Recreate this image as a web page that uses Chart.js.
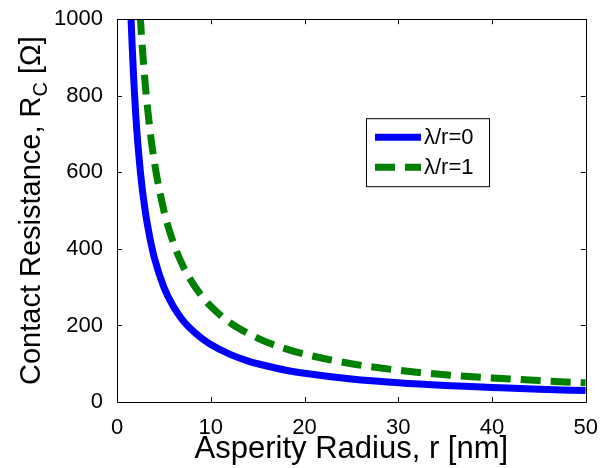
<!DOCTYPE html>
<html>
<head>
<meta charset="utf-8">
<script src="https://cdn.jsdelivr.net/npm/chart.js@4.4.0/dist/chart.umd.min.js"></script>
<style>
  html, body { margin: 0; padding: 0; background: #fff; }
  #wrap { width: 603px; height: 468px; }
</style>
</head>
<body>
<div id="wrap"><canvas id="rcChart" width="603" height="468"></canvas></div>
<script>
// values
const radiusBlue = [1.3, 1.5, 2, 2.5, 3, 3.5, 4, 5, 6, 7, 8, 9, 10, 12, 14, 16, 18, 20, 25, 30, 35, 40, 45, 50];
const resistBlue = [1150, 1000, 750, 600, 500, 430, 375, 300, 250, 214, 188, 167, 150, 125, 107, 94, 83, 75, 60, 50, 43, 38, 33, 30];
const radiusGreen = [2.3, 2.5, 3, 3.5, 4, 5, 6, 7, 8, 9, 10, 12, 14, 16, 18, 20, 25, 30, 35, 40, 45, 50];
const resistGreen = [1090, 1000, 833, 714, 625, 500, 417, 357, 313, 278, 250, 208, 179, 156, 139, 125, 100, 83, 71, 63, 56, 50];
const xTicks = [0, 10, 20, 30, 40, 50];
const yTicks = [0, 200, 400, 600, 800, 1000];
const seriesNames = ['\u03bb/r=0', '\u03bb/r=1'];

const FONT = '"Liberation Sans", Arial, sans-serif';

function toPoints(xs, ys) {
    return xs.map(function(x, i) { return { x: x, y: ys[i] }; });
}

// inward ticks on all four sides, plus the box
const boxTicks = {
    id: 'boxTicks',
    afterDraw: function(chart) {
        const ctx = chart.ctx;
        const a = chart.chartArea;
        const xs = chart.scales.x, ys = chart.scales.y;
        const len = 5;
        ctx.save();
        ctx.strokeStyle = '#000';
        ctx.lineWidth = 1;
        ctx.beginPath();
        xTicks.forEach(function(v) {
            const px = Math.round(xs.getPixelForValue(v)) + 0.5;
            ctx.moveTo(px, a.bottom); ctx.lineTo(px, a.bottom - len);
            ctx.moveTo(px, a.top); ctx.lineTo(px, a.top + len);
        });
        yTicks.forEach(function(v) {
            const py = Math.round(ys.getPixelForValue(v)) + 0.5;
            ctx.moveTo(a.left, py); ctx.lineTo(a.left + len, py);
            ctx.moveTo(a.right, py); ctx.lineTo(a.right - len, py);
        });
        ctx.stroke();
        ctx.strokeRect(Math.round(a.left) + 0.5, Math.round(a.top) + 0.5,
            Math.round(a.right - a.left), Math.round(a.bottom - a.top));
        ctx.restore();
    }
};

// y title with subscript C
const yTitle = {
    id: 'yTitle',
    afterDraw: function(chart) {
        const ctx = chart.ctx;
        const a = chart.chartArea;
        const big = '29px ' + FONT, small = '20px ' + FONT;
        const p1 = 'Contact Resistance, R', p2 = 'C', p3 = ' [\u03a9]';
        ctx.save();
        ctx.font = big;
        const w1 = ctx.measureText(p1).width, w3 = ctx.measureText(p3).width;
        ctx.font = small;
        const w2 = ctx.measureText(p2).width;
        const total = w1 + w2 + w3;
        ctx.translate(32, (a.top + a.bottom) / 2);
        ctx.rotate(-Math.PI / 2);
        ctx.fillStyle = '#000';
        ctx.textBaseline = 'middle';
        ctx.textAlign = 'left';
        let x = -total / 2;
        ctx.font = big;
        ctx.fillText(p1, x, 0);
        x += w1;
        ctx.font = small;
        ctx.fillText(p2, x, 9);
        x += w2;
        ctx.font = big;
        ctx.fillText(p3, x, 0);
        ctx.restore();
    }
};

// legend box inside the plot
const insideLegend = {
    id: 'insideLegend',
    afterDraw: function(chart) {
        const ctx = chart.ctx;
        const a = chart.chartArea;
        const left = a.left + 249, top = a.top + 99, w = 123, h = 68;
        ctx.save();
        ctx.fillStyle = '#fff';
        ctx.fillRect(left, top, w, h);
        ctx.strokeStyle = '#000';
        ctx.lineWidth = 1;
        ctx.strokeRect(left + 0.5, top + 0.5, w, h);
        ctx.font = '22px ' + FONT;
        ctx.textBaseline = 'middle';
        ctx.fillStyle = '#000';
        chart.data.datasets.forEach(function(ds, i) {
            const yy = top + 19 + i * 30;
            ctx.beginPath();
            ctx.strokeStyle = ds.borderColor;
            ctx.lineWidth = 7;
            ctx.setLineDash(ds.borderDash || []);
            ctx.moveTo(left + 9, yy);
            ctx.lineTo(left + 55, yy);
            ctx.stroke();
            ctx.setLineDash([]);
            ctx.fillText(seriesNames[i], left + 58, yy + 1);
        });
        ctx.restore();
    }
};

document.addEventListener('DOMContentLoaded', function() {
    const ctx = document.getElementById('rcChart').getContext('2d');
    const rcChart = new Chart(ctx, {
        type: 'line',
        data: {
            datasets: [{
                label: seriesNames[0],
                data: toPoints(radiusBlue, resistBlue),
                borderColor: '#0000ff',
                borderWidth: 7,
                pointRadius: 0,
                cubicInterpolationMode: 'monotone',
                fill: false
            }, {
                label: seriesNames[1],
                data: toPoints(radiusGreen, resistGreen),
                borderColor: '#008000',
                borderWidth: 7,
                borderDash: [20, 10],
                pointRadius: 0,
                cubicInterpolationMode: 'monotone',
                fill: false
            }]
        },
        options: {
            responsive: false,
            animation: false,
            layout: { padding: { left: 0, right: 15, top: 16, bottom: 0 } },
            plugins: {
                legend: { display: false },
                tooltip: { enabled: false }
            },
            scales: {
                x: {
                    type: 'linear',
                    min: 0,
                    max: 50,
                    afterBuildTicks: function(scale) {
                        scale.ticks = xTicks.map(function(v) { return { value: v }; });
                    },
                    grid: { display: false },
                    border: { display: false },
                    ticks: {
                        color: '#000',
                        font: { family: FONT, size: 22 },
                        padding: 5,
                        maxRotation: 0,
                        callback: function(v) { return String(v); }
                    },
                    title: {
                        display: true,
                        text: 'Asperity Radius, r [nm]',
                        color: '#000',
                        font: { family: FONT, size: 31 },
                        padding: { top: 0, bottom: 0 }
                    },
                    afterFit: function(scale) { scale.height = 66; }
                },
                y: {
                    type: 'linear',
                    min: 0,
                    max: 1000,
                    afterBuildTicks: function(scale) {
                        scale.ticks = yTicks.map(function(v) { return { value: v }; });
                    },
                    grid: { display: false },
                    border: { display: false },
                    ticks: {
                        color: '#000',
                        font: { family: FONT, size: 22 },
                        padding: 6,
                        callback: function(v) { return String(v); }
                    },
                    afterFit: function(scale) { scale.width = 117; }
                }
            }
        },
        plugins: [boxTicks, yTitle, insideLegend]
    });
});
</script>
</body>
</html>
